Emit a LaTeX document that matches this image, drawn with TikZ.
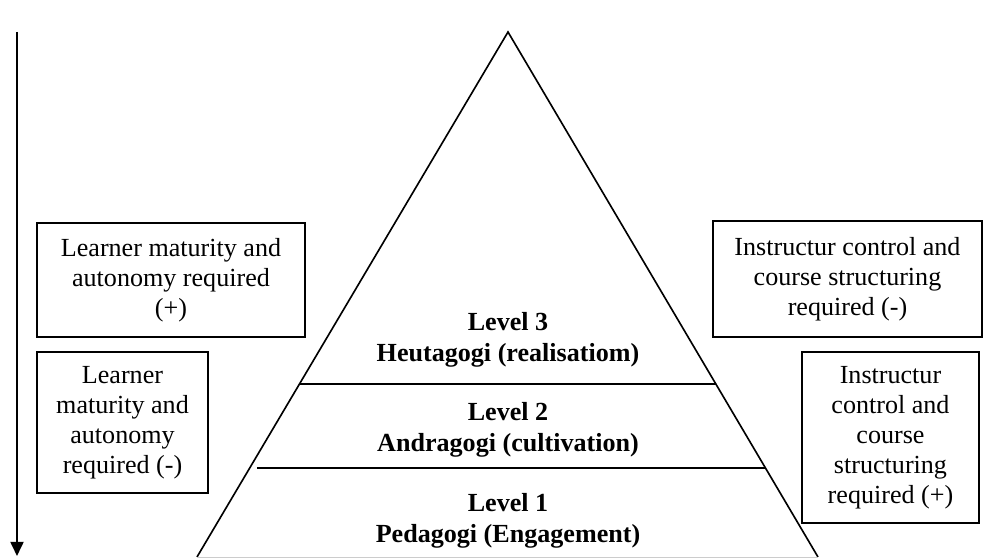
\documentclass[tikz,border=0pt]{standalone}
\usepackage{fontspec}
\setmainfont{Liberation Serif}
\usetikzlibrary{arrows.meta}
\begin{document}
\begin{tikzpicture}[x=0.46pt,y=-0.46pt,
  box/.style={draw,line width=0.9pt,inner sep=0pt,align=center,font=\fontsize{12}{13.8}\selectfont},
  lvl/.style={align=center,font=\bfseries\fontsize{12}{14}\selectfont,inner sep=0pt},
  side/.style={line width=0.75pt},
  divider/.style={line width=0.5pt}]
\useasboundingbox (0,0) rectangle (995,558);
% vertical arrow
\coordinate (atop) at (17,32);
\coordinate (abot) at (17,556);
\draw[line width=0.9pt,-{Triangle[width=6pt,length=6.5pt]}] (atop) -- (abot);
% pyramid
\coordinate (apex) at (508,32);
\coordinate (bl) at (197,557);
\coordinate (br) at (818,557);
\draw[side] (bl) -- (apex) -- (br);
\draw[line width=0.4pt,black!20] (bl) -- (br);
\coordinate (d1l) at (300,384);
\coordinate (d1r) at (716,384);
\coordinate (d2l) at (257,468);
\coordinate (d2r) at (766,468);
\draw[divider] (d1l) -- (d1r);
\draw[divider] (d2l) -- (d2r);
% level texts
\node[lvl] (l3) at (508,340) {Level 3\\Heutagogi (realisatiom)};
\node[lvl] (l2) at (508,430) {Level 2\\Andragogi (cultivation)};
\node[lvl] (l1) at (508,521) {Level 1\\Pedagogi (Engagement)};
% side boxes
\node[box,minimum width=268*0.46pt,minimum height=114*0.46pt] (lt) at (171,280)
  {Learner maturity and\\autonomy required\\(+)};
\node[box,minimum width=171*0.46pt,minimum height=141*0.46pt] (lb) at (122.5,422.5)
  {Learner\\maturity and\\autonomy\\required (-)};
\node[box,minimum width=269*0.46pt,minimum height=116*0.46pt] (rt) at (847.5,279)
  {Instructur control and\\course structuring\\required (-)};
\node[box,minimum width=177*0.46pt,minimum height=171*0.46pt] (rb) at (890.5,437.5)
  {Instructur\\control and\\course\\structuring\\required (+)};
\end{tikzpicture}
\end{document}
